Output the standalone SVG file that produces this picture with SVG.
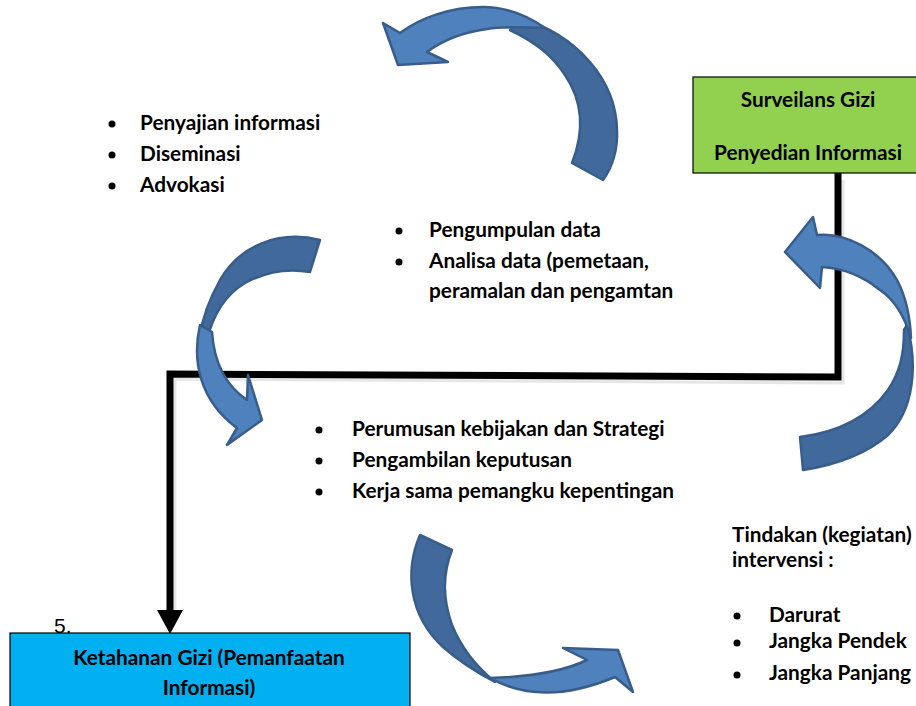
<svg xmlns="http://www.w3.org/2000/svg" width="916" height="706" viewBox="0 0 916 706">
<style>
.t{font-family:Lato,"Liberation Sans",sans-serif;font-weight:700;font-size:20.8px;fill:#000}
.c{text-anchor:middle}
.fr{fill:#4F81BD;stroke:#385D8A;stroke-width:2.5;stroke-linejoin:round}
.bk{fill:#41699B;stroke:#385D8A;stroke-width:2.5;stroke-linejoin:round}
.ln{fill:none;stroke:#000;stroke-width:7}
.bul{fill:#000}
</style>
<rect width="916" height="706" fill="#fff"/>
<g id="connectors">
<polyline points="843,180 843,383 175,379 175,612" fill="none" stroke="#e6e6e6" stroke-width="3"/>
<polyline class="ln" points="838,173 838,377 170,374 170,612"/>
<polygon points="157,610 183,610 170,634" fill="#000"/>
</g>
<g id="arrow-top">
<path class="bk" d="M520,18 C577,35 616,80 617,130 C618,150 612,168 603,180 L572,163 C585,130 582,100 565,75 C552,55 535,42 510,30 Z"/>
<path class="fr" d="M400,33 C420,18 450,7 483,7 C505,7 525,14 545,28 C525,27 505,26 487,29 C465,32 443,40 427,52 L448,62 L398,65 L383,23 Z"/>
</g>
<g id="arrow-right">
<path class="bk" d="M907,325 C918,365 914,410 888,435 C865,455 835,465 803,470 L800,437 C840,432 870,415 888,390 C900,372 904,355 904,330 Z"/>
<path class="fr" d="M817,235 C845,232 880,250 897,280 C905,295 910,315 911,338 C905,318 895,300 880,290 C865,278 845,268 822,267 L820,288 L785,252 L813,217 Z"/>
</g>
<g id="arrow-left">
<path class="bk" d="M320,240 C280,230 240,245 220,280 C210,298 203,315 200,335 L207,340 C213,315 225,295 245,283 C265,272 288,268 310,272 Z"/>
<path class="fr" d="M200,325 C192,360 199,400 237,428 L227,445 L262,420 L248,375 L247,400 C225,385 214,362 212,332 Z"/>
</g>
<g id="arrow-bottom">
<path class="bk" d="M420,535 C405,570 408,615 443,647 C460,662 478,673 495,682 C478,668 462,650 452,625 C443,600 442,575 452,550 Z"/>
<path class="fr" d="M490,678 C520,695 560,700 615,677 L633,692 L618,650 L563,648 L587,660 C560,673 525,677 490,678 Z"/>
</g>
<g id="node-surveilans">
<rect x="693" y="77" width="226" height="96" fill="#92D050" stroke="#000" stroke-width="1.2"/>
<text class="t c" x="808" y="107">Surveilans Gizi</text>
<text class="t c" x="808" y="160">Penyedian Informasi</text>
</g>
<g id="node-ketahanan">
<rect x="10" y="633" width="400" height="80" fill="#00B0F0" stroke="#000" stroke-width="1.2"/>
<text class="t c" x="209" y="665">Ketahanan Gizi (Pemanfaatan</text>
<text class="t c" x="209" y="695">Informasi)</text>
</g>
<g id="label-5">
<text x="54" y="633" style="font-family:'Liberation Sans',sans-serif;font-size:21px;fill:#000">5.</text>
</g>
<g id="list-penyajian">
<circle class="bul" cx="112" cy="124" r="3.5"/>
<circle class="bul" cx="112" cy="155" r="3.5"/>
<circle class="bul" cx="112" cy="186" r="3.5"/>
<text class="t" x="140" y="130">Penyajian informasi</text>
<text class="t" x="140" y="161">Diseminasi</text>
<text class="t" x="140" y="192">Advokasi</text>
</g>
<g id="list-pengumpulan">
<circle class="bul" cx="399" cy="231" r="3.5"/>
<circle class="bul" cx="399" cy="262" r="3.5"/>
<text class="t" x="429" y="237">Pengumpulan data</text>
<text class="t" x="429" y="268">Analisa data (pemetaan,</text>
<text class="t" x="429" y="298">peramalan dan pengamtan</text>
</g>
<g id="list-perumusan">
<circle class="bul" cx="319" cy="430" r="3.5"/>
<circle class="bul" cx="319" cy="461" r="3.5"/>
<circle class="bul" cx="319" cy="492" r="3.5"/>
<text class="t" x="352" y="436">Perumusan kebijakan dan Strategi</text>
<text class="t" x="352" y="467">Pengambilan keputusan</text>
<text class="t" x="352" y="498">Kerja sama pemangku kepentingan</text>
</g>
<g id="list-tindakan">
<text class="t" x="732" y="542">Tindakan (kegiatan)</text>
<text class="t" x="732" y="567">intervensi :</text>
<circle class="bul" cx="737" cy="616" r="3.5"/>
<circle class="bul" cx="737" cy="643" r="3.5"/>
<circle class="bul" cx="737" cy="675" r="3.5"/>
<text class="t" x="769" y="622">Darurat</text>
<text class="t" x="769" y="648">Jangka Pendek</text>
<text class="t" x="769" y="680">Jangka Panjang</text>
</g>
</svg>
